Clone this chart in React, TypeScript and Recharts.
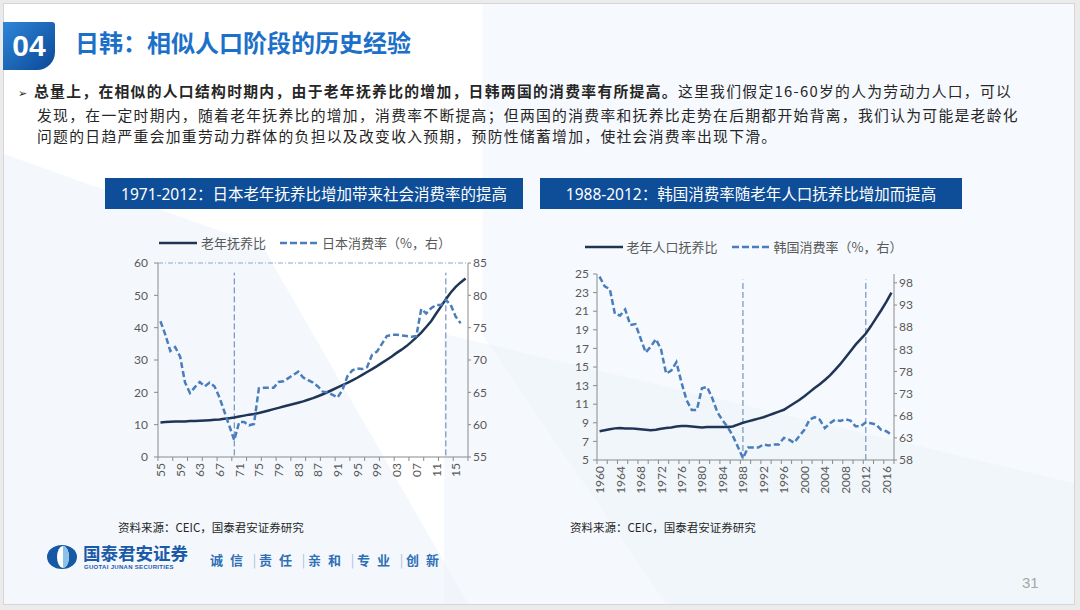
import React from 'react';
import { LineChart, Line, XAxis, YAxis, ReferenceLine, Legend } from 'recharts';

// Japan, 1955-2017
const JP_START = 1955;
const jpOldAgeRatio = [
  10.7, 10.8, 10.9, 11.0, 11.0, 11.0, 11.1, 11.1, 11.2, 11.3,
  11.4, 11.5, 11.6, 11.8, 12.0, 12.2, 12.5, 12.8, 13.1, 13.3,
  13.6, 14.0, 14.4, 14.8, 15.2, 15.6, 16.0, 16.4, 16.8, 17.2,
  17.7, 18.2, 18.8, 19.4, 20.1, 20.8, 21.5, 22.2, 22.9, 23.7,
  24.5, 25.4, 26.3, 27.2, 28.1, 29.1, 30.1, 31.1, 32.2, 33.2,
  34.3, 35.6, 37.0, 38.5, 40.2, 42.0, 44.3, 46.5, 48.8, 50.9,
  52.6, 54.0, 55.2,
];
const jpConsumption = [
  76.0, 73.9, 71.4, 72.0, 70.5, 66.5, 64.9, 65.8, 66.6, 65.9,
  66.5, 65.9, 64.2, 62.0, 59.8, 57.6, 60.4, 60.4, 59.9, 60.1,
  65.6, 65.7, 65.7, 65.7, 66.6, 66.7, 67.2, 67.7, 68.2, 67.3,
  66.9, 66.5, 65.9, 65.1, 65.0, 64.6, 64.2, 65.4, 67.5, 68.4,
  68.7, 68.6, 68.9, 70.8, 71.3, 72.5, 73.7, 73.9, 73.9, 73.8,
  73.7, 73.6, 73.7, 77.9, 77.2, 78.0, 78.5, 78.5, 79.3, 78.5,
  76.7, 75.7, null,
];
const jpLabelYears = [1955, 1959, 1963, 1967, 1971, 1975, 1979, 1983, 1987, 1991, 1995, 1999, 2003, 2007, 2011, 2015];
const jpTickMarks = [
  1954.5, 1957.5, 1960.5, 1963.5, 1966.5, 1969.5, 1972.5, 1975.5, 1978.5, 1981.5, 1984.5,
  1987.5, 1990.5, 1993.5, 1996.5, 1999.5, 2002.5, 2005.5, 2008.5, 2011.5, 2014.5, 2017.5,
];
const jpLeftTicks = [0, 10, 20, 30, 40, 50, 60];
const jpRightTicks = [55, 60, 65, 70, 75, 80, 85];
const jpMarkYears = [1970, 2013];

// Korea, 1960-2017
const KR_START = 1960;
const krOldAgeRatio = [
  8.1, 8.2, 8.3, 8.4, 8.45, 8.4, 8.4, 8.35, 8.3, 8.25,
  8.2, 8.25, 8.35, 8.45, 8.5, 8.6, 8.65, 8.65, 8.6, 8.55,
  8.5, 8.55, 8.55, 8.55, 8.55, 8.55, 8.6, 8.8, 9.0, 9.15,
  9.3, 9.45, 9.6, 9.8, 10.0, 10.2, 10.4, 10.75, 11.1, 11.45,
  11.85, 12.3, 12.75, 13.15, 13.6, 14.1, 14.7, 15.3, 16.0, 16.7,
  17.4, 18.0, 18.6, 19.4, 20.25, 21.1, 22.0, 23.0,
];
const krConsumption = [
  99.4, 97.2, 96.6, 91.0, 90.6, 92.0, 88.5, 88.7, 85.5, 82.3,
  83.6, 85.3, 83.0, 77.5, 78.2, 80.1, 75.5, 71.5, 69.3, 69.3,
  74.2, 74.5, 72.0, 68.8, 67.0, 65.5, 63.5, 61.0, 58.4, 60.8,
  60.8, 60.8, 61.5, 61.3, 61.5, 61.5, 63.0, 62.6, 61.9, 63.4,
  64.8, 67.1, 67.7, 67.1, 65.2, 66.3, 67.1, 66.8, 67.2, 66.9,
  65.6, 65.6, 66.5, 66.3, 66.0, 64.8, 64.5, 63.7,
];
const krLabelYears = [1960, 1964, 1968, 1972, 1976, 1980, 1984, 1988, 1992, 1996, 2000, 2004, 2008, 2012, 2016];
const krTickMarks = [
  1959.5, 1961.5, 1963.5, 1965.5, 1967.5, 1969.5, 1971.5, 1973.5, 1975.5, 1977.5,
  1979.5, 1981.5, 1983.5, 1985.5, 1987.5, 1989.5, 1991.5, 1993.5, 1995.5, 1997.5,
  1999.5, 2001.5, 2003.5, 2005.5, 2007.5, 2009.5, 2011.5, 2013.5, 2015.5, 2017.5,
];
const krLeftTicks = [5, 7, 9, 11, 13, 15, 17, 19, 21, 23, 25];
const krRightTicks = [58, 63, 68, 73, 78, 83, 88, 93, 98];
const krMarkYears = [1988, 2012];

const mottoWords = ['诚信', '责任', '亲和', '专业', '创新'];

const jpData = jpOldAgeRatio.map((v, i) => ({ year: JP_START + i, ratio: v, cons: jpConsumption[i] }));
const krData = krOldAgeRatio.map((v, i) => ({ year: KR_START + i, ratio: v, cons: krConsumption[i] }));

const NAVY = '#1f3556';
const BLUE = '#4a7dbb';
const AXIS = '#8a8a8a';
const TICK_TEXT = '#595959';
const NUM_FONT = 'Lato, "Noto Sans CJK SC", sans-serif';
const CJK = '"Noto Sans CJK SC", "Noto Sans", sans-serif';
const BAR_FONT = '"Noto Sans", "Noto Sans CJK SC", sans-serif';

function YearTick(props: any) {
  const { x, y, payload, full } = props;
  const v = payload.value;
  if (!Number.isInteger(v)) {
    return <line x1={x} x2={x} y1={y} y2={y + 4} stroke={AXIS} strokeWidth={1} />;
  }
  const label = full ? String(v) : String(v).slice(2);
  const ty = y + 6;
  return (
    <text
      x={x}
      y={ty}
      transform={`rotate(-90 ${x} ${ty})`}
      textAnchor="end"
      dominantBaseline="central"
      fontSize={12}
      fontFamily={NUM_FONT}
      fill={TICK_TEXT}
    >
      {label}
    </text>
  );
}

function LegendRow({ items, shift }: { items: { label: string; dashed: boolean }[]; shift: number }) {
  return (
    <div style={{ height: '100%', display: 'flex', alignItems: 'center', justifyContent: 'center', paddingLeft: shift, fontFamily: CJK, fontSize: 13, color: TICK_TEXT }}>
      {items.map((it) => (
        <div key={it.label} style={{ display: 'flex', alignItems: 'center', marginRight: 14 }}>
          <svg width={38} height={8} style={{ marginRight: 4 }}>
            <line x1={0} x2={38} y1={4} y2={4} stroke={it.dashed ? BLUE : NAVY} strokeWidth={2.5} strokeDasharray={it.dashed ? '7 3' : undefined} />
          </svg>
          <span>{it.label}</span>
        </div>
      ))}
    </div>
  );
}

function JapanChart() {
  return (
    <LineChart width={398} height={270} data={jpData} margin={{ top: 0, right: 0, bottom: 5, left: 20 }}>
      <Legend
        verticalAlign="top"
        content={() => (
          <div style={{ height: 41 }}>
            <LegendRow shift={6} items={[{ label: '老年抚养比', dashed: false }, { label: '日本消费率（%，右）', dashed: true }]} />
          </div>
        )}
      />
      <XAxis
        dataKey="year"
        type="number"
        domain={[1954.5, 2017.5]}
        ticks={[...jpTickMarks, ...jpLabelYears].sort((a, b) => a - b)}
        interval={0}
        tickSize={0}
        tickMargin={0}
        tickLine={false}
        height={30}
        stroke={AXIS}
        tick={(p: any) => <YearTick {...p} full={false} />}
      />
      <YAxis yAxisId="l" domain={[0, 60]} ticks={jpLeftTicks} interval={0} width={38} stroke={AXIS} tickSize={4} tickMargin={6}
        tick={{ fontSize: 12, fill: TICK_TEXT, fontFamily: NUM_FONT }} />
      <YAxis yAxisId="r" orientation="right" domain={[55, 85]} ticks={jpRightTicks} interval={0} width={30} stroke={AXIS} tickSize={3} tickMargin={2}
        tick={{ fontSize: 12, fill: TICK_TEXT, fontFamily: NUM_FONT }} />
      <ReferenceLine yAxisId="l" y={60} stroke="#8fa8c8" strokeDasharray="5 2 1 2" />
      {jpMarkYears.map((yr) => (
        <ReferenceLine key={yr} yAxisId="l" segment={[{ x: yr, y: 0.5 }, { x: yr, y: 57 }]} stroke="#5b7fae" strokeWidth={1} strokeDasharray="6 3" />
      ))}
      <Line yAxisId="l" dataKey="ratio" stroke={NAVY} strokeWidth={2.5} dot={false} isAnimationActive={false} />
      <Line yAxisId="r" dataKey="cons" stroke={BLUE} strokeWidth={2.5} strokeDasharray="6 3" dot={false} isAnimationActive={false} />
    </LineChart>
  );
}

function KoreaChart() {
  return (
    <LineChart width={379} height={286} data={krData} margin={{ top: 0, right: 0, bottom: 5, left: 12 }}>
      <Legend
        verticalAlign="top"
        content={() => (
          <div style={{ height: 55 }}>
            <LegendRow shift={20} items={[{ label: '老年人口抚养比', dashed: false }, { label: '韩国消费率（%，右）', dashed: true }]} />
          </div>
        )}
      />
      <XAxis
        dataKey="year"
        type="number"
        domain={[1959.5, 2017.5]}
        ticks={[...krTickMarks, ...krLabelYears].sort((a, b) => a - b)}
        interval={0}
        tickSize={0}
        tickMargin={0}
        tickLine={false}
        height={40}
        stroke={AXIS}
        tick={(p: any) => <YearTick {...p} full={true} />}
      />
      <YAxis yAxisId="l" domain={[5, 25]} ticks={krLeftTicks} interval={0} width={40} stroke={AXIS} tickSize={4} tickMargin={4}
        tick={{ fontSize: 12, fill: TICK_TEXT, fontFamily: NUM_FONT }} />
      <YAxis yAxisId="r" orientation="right" domain={[58, 100]} ticks={krRightTicks} interval={0} width={30} stroke={AXIS} tickSize={3} tickMargin={2}
        tick={{ fontSize: 12, fill: TICK_TEXT, fontFamily: NUM_FONT }} />
      {krMarkYears.map((yr) => (
        <ReferenceLine key={yr} yAxisId="l" segment={[{ x: yr, y: 5 }, { x: yr, y: 24.4 }]} stroke="#5b7fae" strokeWidth={1} strokeDasharray="6 3" />
      ))}
      <Line yAxisId="l" dataKey="ratio" stroke={NAVY} strokeWidth={2.5} dot={false} isAnimationActive={false} />
      <Line yAxisId="r" dataKey="cons" stroke={BLUE} strokeWidth={2.5} strokeDasharray="6 3" dot={false} isAnimationActive={false} />
    </LineChart>
  );
}

const abs = (left: number, top: number, extra: React.CSSProperties = {}): React.CSSProperties => ({ position: 'absolute', left, top, ...extra });

const barStyle: React.CSSProperties = {
  height: 31, background: '#0e4d97', color: '#fff', fontSize: 15.5, fontFamily: BAR_FONT,
  display: 'flex', alignItems: 'center', justifyContent: 'center', whiteSpace: 'nowrap',
};

export default function App() {
  return (
    <div style={{ position: 'absolute', left: 0, top: 0, width: 1080, height: 610, overflow: 'hidden', background: '#ebebeb', fontFamily: CJK }}>
      <div style={{ position: 'absolute', left: 3, top: 3, width: 1072, height: 602, background: '#ffffff', border: '1px solid #d6d6d6', boxSizing: 'border-box', overflow: 'hidden' }}>
        {/* soft background shapes */}
        <div style={abs(0, 150, { width: 470, height: 460, background: '#f4f8fc', clipPath: 'polygon(0 0, 55% 20%, 100% 100%, 0 100%)' })} />
        <div style={abs(330, 0, { width: 742, height: 602, background: '#f6f9fd', clipPath: 'polygon(20% 0, 100% 0, 100% 100%, 45% 100%, 20% 55%)' })} />
        <div style={abs(440, 330, { width: 632, height: 272, background: '#eef4fa', clipPath: 'polygon(0 0, 100% 55%, 100% 100%, 0 100%)', opacity: 0.6 })} />
      </div>

      {/* header */}
      <div style={abs(3, 22, { width: 52, height: 48, background: 'linear-gradient(135deg, #2f86d8, #0b4896)', borderRadius: '0 3px 18px 0', color: '#fff', fontFamily: '"Liberation Sans", Arial, sans-serif', fontWeight: 700, fontSize: 30, display: 'flex', alignItems: 'center', justifyContent: 'center' })}>04</div>
      <div style={abs(75, 25, { fontSize: 24, fontWeight: 700, color: '#1c70c8', lineHeight: '34px', whiteSpace: 'nowrap' })}>日韩：相似人口阶段的历史经验</div>

      {/* body text */}
      <div style={abs(18, 80, { fontSize: 14.8, lineHeight: '21.5px', color: '#262626', letterSpacing: 1.3, whiteSpace: 'nowrap' })}>
        <div><span style={{ fontSize: 11, marginRight: 7, letterSpacing: 0 }}>➢</span><b>总量上，在相似的人口结构时期内，由于老年抚养比的增加，日韩两国的消费率有所提高。</b>这里我们假定16-60岁的人为劳动力人口，可以</div>
        <div style={{ paddingLeft: 19 }}>发现，在一定时期内，随着老年抚养比的增加，消费率不断提高；但两国的消费率和抚养比走势在后期都开始背离，我们认为可能是老龄化</div>
        <div style={{ paddingLeft: 19 }}>问题的日趋严重会加重劳动力群体的负担以及改变收入预期，预防性储蓄增加，使社会消费率出现下滑。</div>
      </div>

      {/* chart titles */}
      <div style={abs(105, 178, { ...barStyle, width: 418 })}>1971-2012：日本老年抚养比增加带来社会消费率的提高</div>
      <div style={abs(540, 178, { ...barStyle, width: 422 })}>1988-2012：韩国消费率随老年人口抚养比增加而提高</div>

      {/* charts */}
      <div style={abs(100, 222)}><JapanChart /></div>
      <div style={abs(545, 219)}><KoreaChart /></div>

      {/* sources */}
      <div style={abs(118, 519, { fontSize: 11.5, color: '#262626', whiteSpace: 'nowrap' })}>资料来源：CEIC，国泰君安证券研究</div>
      <div style={abs(570, 519, { fontSize: 11.5, color: '#262626', whiteSpace: 'nowrap' })}>资料来源：CEIC，国泰君安证券研究</div>

      {/* footer */}
      <svg style={abs(47, 544)} width={30} height={26}>
        <ellipse cx={15} cy={13} rx={15} ry={12} fill="#1558a6" />
        <ellipse cx={16} cy={13} rx={6} ry={11} fill="#ffffff" />
        <path d="M16 2 A6 11 0 0 1 16 24 Z" fill="#8cc2ea" />
      </svg>
      <div style={abs(83, 542, { fontSize: 17.5, fontWeight: 700, color: '#1a5aa8', whiteSpace: 'nowrap', lineHeight: '21px' })}>国泰君安证券</div>
      <div style={abs(84, 564, { fontSize: 6, color: '#1a5aa8', whiteSpace: 'nowrap', fontFamily: '"Liberation Sans", sans-serif', fontWeight: 700, letterSpacing: 0.3 })}>GUOTAI JUNAN SECURITIES</div>
      <div style={abs(210, 549, { display: 'flex', alignItems: 'center', height: 20, fontSize: 13, fontWeight: 700, color: '#2f6fb6', whiteSpace: 'nowrap' })}>
        {mottoWords.map((w, i) => (
          <React.Fragment key={w}>
            {i > 0 && <span style={{ width: 9, textAlign: 'center', color: '#a9bedb', fontWeight: 400 }}>|</span>}
            <span style={{ width: 40, letterSpacing: 7 }}>{w}</span>
          </React.Fragment>
        ))}
      </div>
      <div style={abs(1022, 574, { fontSize: 15, color: '#a6a6a6', fontFamily: '"Liberation Sans", Arial, sans-serif' })}>31</div>
    </div>
  );
}
